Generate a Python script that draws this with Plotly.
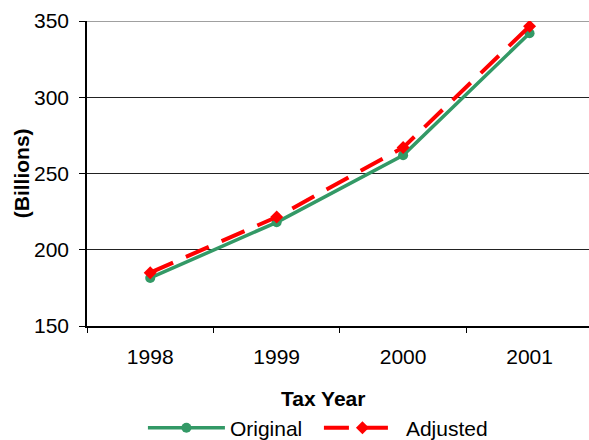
import plotly.graph_objects as go

years = ["1998", "1999", "2000", "2001"]
original = [181.5, 218, 262, 342]
adjusted = [185, 221.5, 267, 346.5]
y_ticks = [150, 200, 250, 300, 350]

FONT = "Liberation Sans, Arial, sans-serif"
FS = 21

fig = go.Figure()
fig.add_trace(go.Scatter(
    x=years, y=original, name="Original", mode="lines+markers",
    line=dict(color="#339966", width=3.5),
    marker=dict(symbol="circle", size=10, color="#339966"),
))
fig.add_trace(go.Scatter(
    x=years, y=adjusted, name="Adjusted", mode="lines+markers",
    line=dict(color="#FF0000", width=4, dash="25px,14px"),
    marker=dict(symbol="diamond", size=10, color="#FF0000"),
))

fig.update_layout(
    width=589, height=440,
    margin=dict(l=87, r=0, t=21, b=114),
    paper_bgcolor="white", plot_bgcolor="white",
    font=dict(family=FONT, size=FS, color="black"),
    showlegend=True,
    legend=dict(
        orientation="h", x=0.462, xanchor="center",
        yref="container", y=0.027, yanchor="middle",
        font=dict(size=FS), itemwidth=77, entrywidth=84,
        bgcolor="rgba(0,0,0,0)", tracegroupgap=0,
    ),
    xaxis=dict(
        type="category", range=[-0.5, 3.47],
        showgrid=False, showline=True, linecolor="black", linewidth=1.5,
        ticks="outside", tickson="boundaries", ticklen=5, tickcolor="black",
        tickfont=dict(size=FS), ticklabelstandoff=11,
    ),
    yaxis=dict(
        range=[150, 350], tickvals=y_ticks,
        showgrid=True, gridcolor="#222222", gridwidth=1,
        showline=True, linecolor="black", linewidth=1.5,
        ticks="outside", ticklen=6, tickcolor="black",
        tickfont=dict(size=FS), ticklabelstandoff=6,
        zeroline=False,
    ),
    annotations=[
        dict(text="<b>Tax Year</b>", xref="paper", yref="paper",
             x=0.47, y=-0.239, xanchor="center", yanchor="middle",
             showarrow=False, font=dict(size=FS)),
        dict(text="<b>(Billions)</b>", xref="paper", yref="paper",
             x=-0.13, y=0.5, xanchor="center", yanchor="middle",
             textangle=-90, showarrow=False, font=dict(size=FS)),
    ],
    shapes=[
        dict(type="line", xref="paper", yref="y", x0=0, x1=1, y0=350, y1=350,
             line=dict(color="#808080", width=1.5), layer="below"),
    ],
)

fig.write_html("out.html")
